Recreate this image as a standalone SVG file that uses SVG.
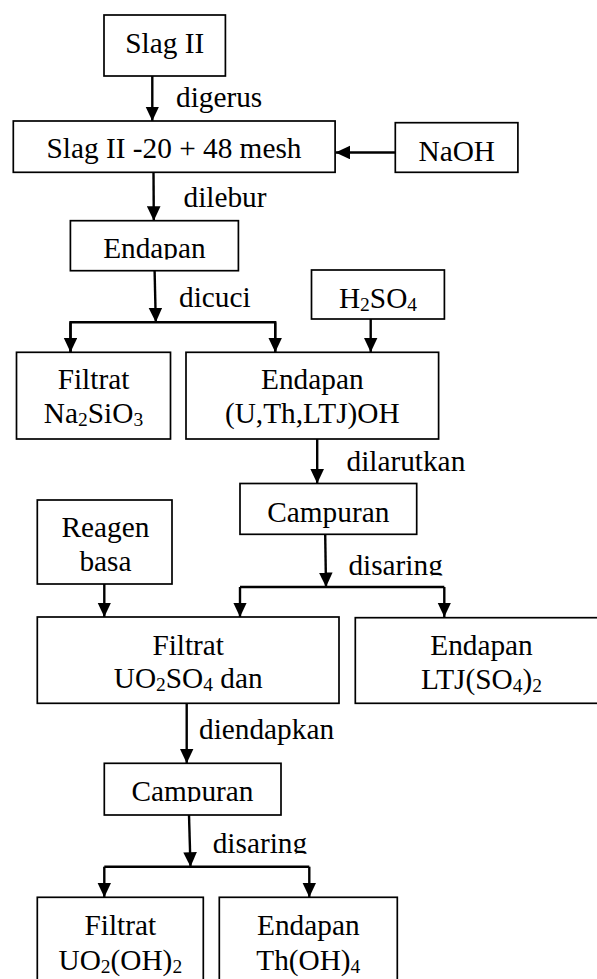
<svg xmlns="http://www.w3.org/2000/svg" width="597" height="979" viewBox="0 0 597 979">
<style>
  .box { fill: #ffffff; stroke: #000000; stroke-width: 1.7; }
  .t { font-family: "Liberation Serif", "Times New Roman", serif; font-size: 29.3px; fill: #000000; }
  .c { text-anchor: middle; }
  .sub { font-size: 19.5px; }
  .con { fill: none; stroke: #000000; stroke-width: 2.4; }
  .arr { marker-end: url(#ah); }
</style>
<defs>
  <marker id="ah" markerUnits="userSpaceOnUse" markerWidth="15" markerHeight="14" refX="14.5" refY="6.8" orient="auto">
    <path d="M0,0 L14.5,6.8 L0,13.6 z" fill="#000000"/>
  </marker>
  <clipPath id="clipEnd1"><rect x="70" y="220" width="170" height="39.5"/></clipPath>
  <clipPath id="clipDis1"><rect x="340" y="540" width="130" height="35.5"/></clipPath>
  <clipPath id="clipCamp2"><rect x="104" y="763" width="178" height="39"/></clipPath>
  <clipPath id="clipDis2"><rect x="205" y="820" width="130" height="33.8"/></clipPath>
</defs>
<rect width="597" height="979" fill="#ffffff"/>

<g id="connectors">
  <line class="con arr" x1="152.3" y1="76" x2="152.3" y2="121"/>
  <line class="con arr" x1="395.3" y1="152.5" x2="335.5" y2="152.5"/>
  <line class="con arr" x1="153.5" y1="172.3" x2="153.8" y2="220.7"/>
  <line class="con arr" x1="154.6" y1="270.7" x2="155.8" y2="322.3"/>
  <polyline class="con" points="70.5,352.3 70.5,322.3 275.2,322.3 275.2,352.3"/>
  <line class="con arr" x1="70.5" y1="322.3" x2="70.5" y2="352.3"/>
  <line class="con arr" x1="275.2" y1="322.3" x2="275.2" y2="352.3"/>
  <line class="con arr" x1="370.7" y1="319" x2="370.7" y2="352.3"/>
  <line class="con arr" x1="317.2" y1="439" x2="317.2" y2="483.5"/>
  <line class="con arr" x1="325.2" y1="534.3" x2="326" y2="587"/>
  <polyline class="con" points="240,587 444.3,587"/>
  <line class="con arr" x1="240" y1="587" x2="240" y2="617"/>
  <line class="con arr" x1="444.3" y1="587" x2="444.3" y2="617"/>
  <line class="con arr" x1="104.3" y1="584" x2="104.3" y2="617"/>
  <line class="con arr" x1="186.7" y1="703.3" x2="186.7" y2="763.3"/>
  <line class="con arr" x1="189" y1="815" x2="190.5" y2="866.7"/>
  <polyline class="con" points="104.3,866.7 309.3,866.7"/>
  <line class="con arr" x1="104.3" y1="866.7" x2="104.3" y2="897.3"/>
  <line class="con arr" x1="309.3" y1="866.7" x2="309.3" y2="897.3"/>
</g>

<g id="labels">
  <text class="t" x="176" y="107.3">digerus</text>
  <text class="t" x="183.5" y="207.3">dilebur</text>
  <text class="t" x="179" y="307">dicuci</text>
  <text class="t" x="346.5" y="470.7">dilarutkan</text>
  <text class="t" x="348.4" y="575" clip-path="url(#clipDis1)">disaring</text>
  <text class="t" x="199" y="739.3">diendapkan</text>
  <text class="t" x="212.7" y="853" clip-path="url(#clipDis2)">disaring</text>
</g>

<g id="slag2">
  <rect class="box" x="104" y="15" width="121.4" height="61"/>
  <text class="t c" x="164.7" y="53.3">Slag II</text>
</g>

<g id="slag2mesh">
  <rect class="box" x="13.3" y="121" width="321.8" height="51.3"/>
  <text class="t c" x="174" y="158.3">Slag II -20 + 48 mesh</text>
</g>

<g id="naoh">
  <rect class="box" x="395.3" y="122.7" width="122.6" height="49.6"/>
  <text class="t c" x="456.8" y="160.7">NaOH</text>
</g>

<g id="endapan1">
  <rect class="box" x="70.4" y="220.7" width="168" height="50"/>
  <text class="t c" x="154.4" y="258.3" clip-path="url(#clipEnd1)">Endapan</text>
</g>

<g id="h2so4">
  <rect class="box" x="311.5" y="270" width="132.9" height="49"/>
  <text class="t c" x="378" y="307.7">H<tspan class="sub" dy="3">2</tspan><tspan dy="-3">SO</tspan><tspan class="sub" dy="3">4</tspan></text>
</g>

<g id="filtrat-na2sio3">
  <rect class="box" x="16.5" y="352.3" width="154" height="86.7"/>
  <text class="t c" x="93.5" y="389">Filtrat</text>
  <text class="t c" x="93.5" y="423.3">Na<tspan class="sub" dy="3">2</tspan><tspan dy="-3">SiO</tspan><tspan class="sub" dy="3">3</tspan></text>
</g>

<g id="endapan-uthltj">
  <rect class="box" x="186" y="352.3" width="252.6" height="86.7"/>
  <text class="t c" x="312.3" y="389">Endapan</text>
  <text class="t c" x="312.3" y="422.7">(U,Th,LTJ)OH</text>
</g>

<g id="campuran1">
  <rect class="box" x="240" y="483.5" width="176.7" height="50.8"/>
  <text class="t c" x="328.3" y="521.5">Campuran</text>
</g>

<g id="reagen">
  <rect class="box" x="37.3" y="500" width="134.7" height="84"/>
  <text class="t c" x="105.5" y="537.3">Reagen</text>
  <text class="t c" x="105.5" y="570.7">basa</text>
</g>

<g id="filtrat-uo2so4">
  <rect class="box" x="37.3" y="617" width="301.7" height="86.3"/>
  <text class="t c" x="188.2" y="655">Filtrat</text>
  <text class="t c" x="188.2" y="688.3">UO<tspan class="sub" dy="3">2</tspan><tspan dy="-3">SO</tspan><tspan class="sub" dy="3">4</tspan><tspan dy="-3"> dan</tspan></text>
</g>

<g id="endapan-ltjso4">
  <rect class="box" x="355.3" y="617.7" width="253" height="85.6"/>
  <text class="t c" x="481.5" y="655">Endapan</text>
  <text class="t c" x="481.5" y="689.3">LTJ(SO<tspan class="sub" dy="3">4</tspan><tspan dy="-3">)</tspan><tspan class="sub" dy="3">2</tspan></text>
</g>

<g id="campuran2">
  <rect class="box" x="104.3" y="763.3" width="176.7" height="51.7"/>
  <text class="t c" x="192.5" y="800.5" clip-path="url(#clipCamp2)">Campuran</text>
</g>

<g id="filtrat-uo2oh2">
  <rect class="box" x="37.3" y="897.3" width="166" height="95"/>
  <text class="t c" x="120.3" y="935">Filtrat</text>
  <text class="t c" x="120.3" y="970">UO<tspan class="sub" dy="3">2</tspan><tspan dy="-3">(OH)</tspan><tspan class="sub" dy="3">2</tspan></text>
</g>

<g id="endapan-thoh4">
  <rect class="box" x="219.3" y="897.3" width="178" height="95"/>
  <text class="t c" x="308.3" y="935">Endapan</text>
  <text class="t c" x="308.3" y="970">Th(OH)<tspan class="sub" dy="3">4</tspan></text>
</g>
</svg>
